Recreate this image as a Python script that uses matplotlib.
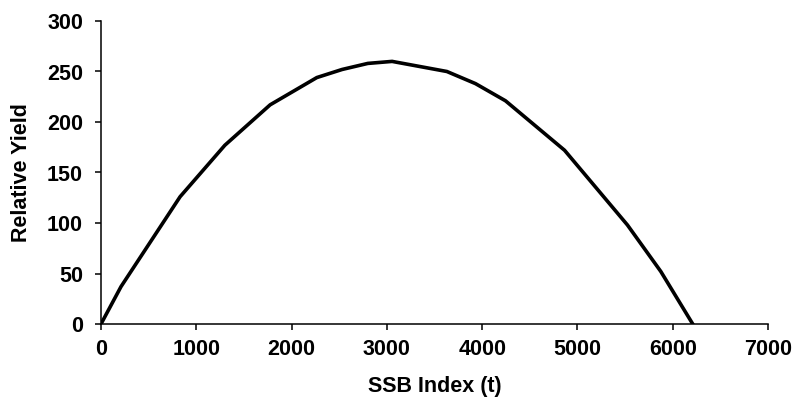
import matplotlib
matplotlib.use("Agg")
import matplotlib.pyplot as plt

# values
ssb = [0, 210, 830, 1300, 1775, 2265, 2530, 2800, 3055, 3630, 3930, 4245, 4865, 5525, 5875, 6210]
rel_yield = [0, 37, 126, 177, 217, 244, 252, 258, 260, 250, 238, 221, 172, 98, 52, 0]

x_ticks = [0, 1000, 2000, 3000, 4000, 5000, 6000, 7000]
y_ticks = [0, 50, 100, 150, 200, 250, 300]

plt.rcParams['font.family'] = ['Liberation Sans', 'DejaVu Sans']
plt.rcParams['font.weight'] = 'bold'

fig = plt.figure(figsize=(7.96, 4.11), dpi=100)
ax = fig.add_axes([101 / 796, 1 - 324 / 411, 667 / 796, 303 / 411])

ax.plot(ssb, rel_yield, color='black', linewidth=2.6, solid_joinstyle='miter')

ax.set_xlim(0, 7000)
ax.set_ylim(0, 300)
ax.set_xticks(x_ticks)
ax.set_yticks(y_ticks)

for side in ['top', 'right']:
    ax.spines[side].set_visible(False)
for side in ['left', 'bottom']:
    ax.spines[side].set_linewidth(1.1)

ax.tick_params(axis='both', direction='out', length=4, width=1.1, labelsize=15.5)
ax.tick_params(axis='x', pad=7)
ax.tick_params(axis='y', pad=9)
for lab in ax.get_xticklabels() + ax.get_yticklabels():
    lab.set_fontweight('bold')

ax.set_xlabel('SSB Index (t)', fontsize=15.5, fontweight='bold', labelpad=11)
ax.set_ylabel('Relative Yield', fontsize=15.5, fontweight='bold', labelpad=11)

fig.savefig('out.png', dpi=100)
